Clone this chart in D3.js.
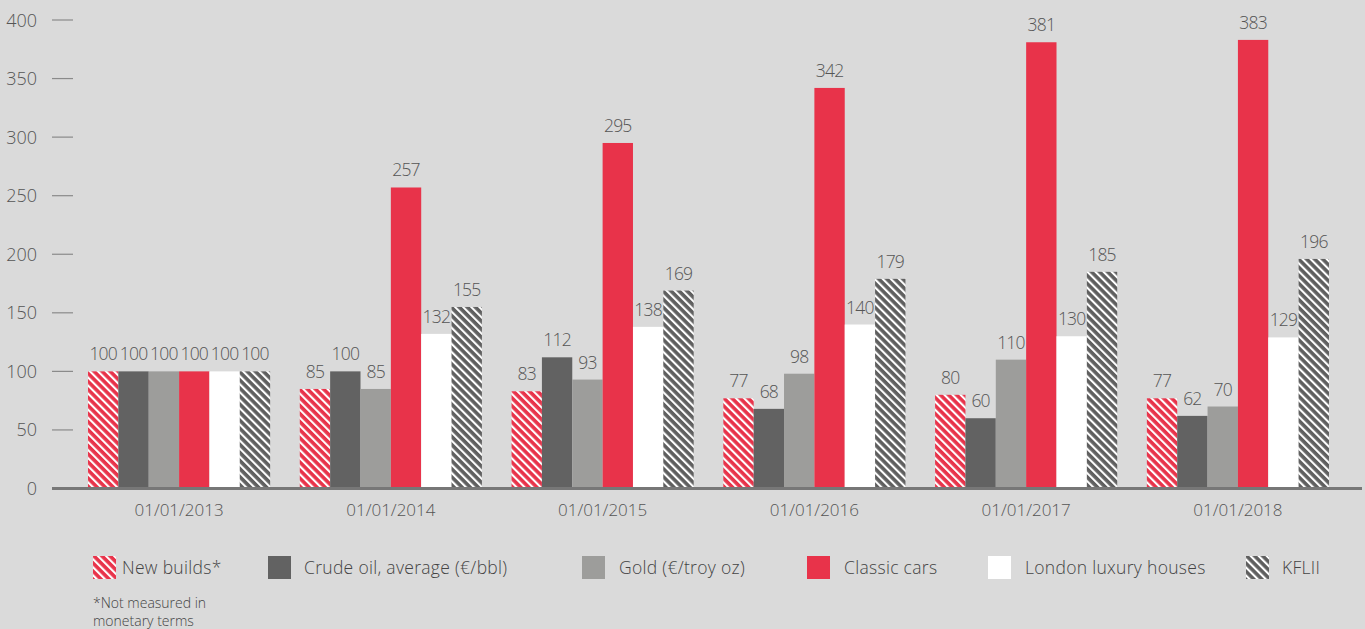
<!DOCTYPE html>
<html>
<head>
<meta charset="utf-8">
<script src="https://cdn.jsdelivr.net/npm/d3@7"></script>
<style>
  html, body { margin: 0; padding: 0; background: #dadada; }
  svg { display: block; font-family: "Open Sans", sans-serif; font-weight: 300; }
</style>
</head>
<body>
<svg id="chart" width="1365" height="629"></svg>
<script>
// Index values (2013 = 100)
const dates = ["01/01/2013", "01/01/2014", "01/01/2015", "01/01/2016", "01/01/2017", "01/01/2018"];
const seriesNames = ["New builds*", "Crude oil, average (€/bbl)", "Gold (€/troy oz)", "Classic cars", "London luxury houses", "KFLII"];
const newBuilds   = [100, 85, 83, 77, 80, 77];
const crudeOil    = [100, 100, 112, 68, 60, 62];
const gold        = [100, 85, 93, 98, 110, 70];
const classicCars = [100, 257, 295, 342, 381, 383];
const londonHouses = [100, 132, 138, 140, 130, 129];
const kflii       = [100, 155, 169, 179, 185, 196];
const yTicks = [0, 50, 100, 150, 200, 250, 300, 350, 400];
const footnote = ["*Not measured in", "monetary terms"];

const seriesValues = [newBuilds, crudeOil, gold, classicCars, londonHouses, kflii];
const fills = ["url(#hatchRed)", "#626262", "#9d9d9b", "#e8334a", "#ffffff", "url(#hatchGrey)"];

const svg = d3.select("#chart");

// Diagonal stripe patterns
const defs = svg.append("defs");
function stripes(id, base) {
  const p = defs.append("pattern")
    .attr("id", id)
    .attr("patternUnits", "userSpaceOnUse")
    .attr("width", 5.7).attr("height", 10)
    .attr("patternTransform", "rotate(-45)");
  p.append("rect").attr("width", 5.7).attr("height", 10).attr("fill", base);
  p.append("rect").attr("width", 2.1).attr("height", 10).attr("fill", "#ffffff");
}
stripes("hatchRed", "#e8334a");
stripes("hatchGrey", "#5f5f5f");

const y = d3.scaleLinear().domain([0, 400]).range([488.5, 20]);
const x0 = d3.scaleBand().domain(dates).range([73.2, 1343.8]).paddingInner(0.14).paddingOuter(0.07);
const x1 = d3.scaleBand().domain(seriesNames).range([0, x0.bandwidth()]);

// Y axis: short tick dashes with labels
const yAxis = svg.append("g");
yAxis.selectAll("line").data(yTicks.filter(d => d > 0)).join("line")
  .attr("x1", 52).attr("x2", 73)
  .attr("y1", d => y(d)).attr("y2", d => y(d))
  .attr("stroke", "#8a8a8a").attr("stroke-width", 1.2);
yAxis.selectAll("text").data(yTicks).join("text")
  .attr("x", 37).attr("y", d => y(d) + 6.5)
  .attr("text-anchor", "end")
  .attr("font-size", 18).attr("fill", "#555")
  .text(d => d);

// Bars
const groups = svg.append("g").selectAll("g").data(dates).join("g")
  .attr("transform", d => `translate(${x0(d)},0)`);

const cells = (d, i) => seriesNames.map((s, k) => ({ s, k, v: seriesValues[k][i] }));

groups.selectAll("rect").data(cells)
  .join("rect")
  .attr("x", d => x1(d.s))
  .attr("width", x1.bandwidth())
  .attr("y", d => y(d.v))
  .attr("height", d => y(0) - y(d.v))
  .attr("fill", d => fills[d.k]);

groups.selectAll("text.val").data(cells)
  .join("text")
  .attr("class", "val")
  .attr("x", d => x1(d.s) + x1.bandwidth() / 2)
  .attr("y", d => y(d.v) - 11)
  .attr("text-anchor", "middle")
  .attr("font-size", 17.5).attr("letter-spacing", -0.8).attr("fill", "#555")
  .text(d => d.v);

// Baseline
svg.append("line")
  .attr("x1", 52).attr("x2", 1362)
  .attr("y1", y(0)).attr("y2", y(0))
  .attr("stroke", "#777").attr("stroke-width", 3);

// Category labels
svg.append("g").selectAll("text").data(dates).join("text")
  .attr("x", d => x0(d) + x0.bandwidth() / 2)
  .attr("y", 516)
  .attr("text-anchor", "middle")
  .attr("font-size", 17).attr("fill", "#555")
  .text(d => d);

// Legend
const legendX = [93, 268, 582, 807, 988, 1246];
const legendTextX = [122, 304, 619, 844, 1025, 1282];
const legend = svg.append("g");
legend.selectAll("rect").data(seriesNames).join("rect")
  .attr("x", (d, i) => legendX[i]).attr("y", 556)
  .attr("width", 23).attr("height", 23)
  .attr("fill", (d, i) => fills[i]);
legend.selectAll("text").data(seriesNames).join("text")
  .attr("x", (d, i) => legendTextX[i]).attr("y", 574)
  .attr("font-size", 17.5).attr("letter-spacing", 0.3).attr("fill", "#444")
  .text(d => d);

svg.append("g").selectAll("text").data(footnote).join("text")
  .attr("x", 93).attr("y", (d, i) => 608 + i * 18)
  .attr("font-size", 14).attr("fill", "#444")
  .text(d => d);
</script>
</body>
</html>
